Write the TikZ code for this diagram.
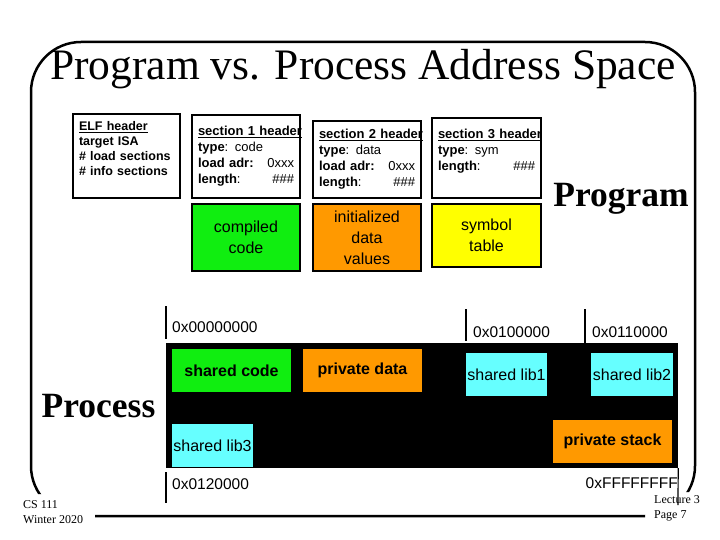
\documentclass[tikz,border=0pt]{standalone}
\usepackage{fontspec}
\setmainfont{Liberation Serif}
\setsansfont{Liberation Sans}
\definecolor{codegreen}{RGB}{16,238,16}
\definecolor{dataorange}{RGB}{255,153,0}
\definecolor{symyellow}{RGB}{255,255,0}
\definecolor{libcyan}{RGB}{102,255,255}
\tikzset{
  hdrbox/.style={draw, line width=1.2pt, inner xsep=5.5pt, align=left,
    font=\sffamily\bfseries\fontsize{13}{16}\selectfont},
  segbox/.style={draw, line width=1.2pt, inner sep=1pt, align=center,
    font=\sffamily\fontsize{16}{21}\selectfont},
  membox/.style={inner sep=1pt, minimum height=43pt,
    font=\sffamily\fontsize{16}{19}\selectfont},
  addr/.style={inner sep=0pt, font=\sffamily\fontsize{15.5}{18}\selectfont},
  bigtitle/.style={font=\bfseries\fontsize{35.5}{40}\selectfont},
  foot/.style={align=left, inner sep=0pt, font=\fontsize{12}{15}\selectfont}
}
\begin{document}
\begin{tikzpicture}[x=1pt, y=-1pt]
  \useasboundingbox (0,0) rectangle (720,540);
  % slide frame, bottom corners hidden behind the footers
  \begin{scope}
    \clip (0,0) -- (720,0) -- (720,492) -- (645,492) -- (645,540)
      -- (95,540) -- (95,494) -- (0,494) -- cycle;
    \draw[line width=2.5pt, rounded corners=50pt] (31,42) rectangle (695,516);
  \end{scope}
  \node[anchor=base, font=\fontsize{43.5}{48}\selectfont] (title) at (363,80)
    {Program vs. Process Address Space};

  % the program file
  \node[hdrbox, font=\sffamily\bfseries\fontsize{12.5}{15}\selectfont,
    minimum width=107pt, minimum height=84pt, text width=95pt] (elf) at (126.5,156)
    {\underline{ELF header}\\ target ISA\\ \# load sections\\ \# info sections\\ \mbox{}};
  \node[hdrbox, minimum width=108pt, minimum height=83pt, text width=96pt] (sec1) at (246,156.5)
    {\underline{section 1 header}\\ type\textmd{: code}\\
     load adr:\hfill\textmd{0xxx}\\ length\textmd{:}\hfill\textmd{\#\#\#}\hspace*{2pt}};
  \node[hdrbox, minimum width=108pt, minimum height=77pt, text width=96pt] (sec2) at (367,159.5)
    {\underline{section 2 header}\\ type\textmd{: data}\\
     load adr:\hfill\textmd{0xxx}\\ length\textmd{:}\hfill\textmd{\#\#\#}\hspace*{3pt}};
  \node[hdrbox, minimum width=109pt, minimum height=80pt, text width=97pt] (sec3) at (486.5,158)
    {\underline{section 3 header}\\ type\textmd{: sym}\\
     length\textmd{:}\hfill\textmd{\#\#\#}\hspace*{4pt}\\ \mbox{}};
  \node[segbox, fill=codegreen, minimum width=108pt, minimum height=67pt] (code) at (246,237.5)
    {compiled\\code};
  \node[segbox, fill=dataorange, minimum width=108pt, minimum height=67pt] (data) at (367,237.5)
    {initialized\\data\\values};
  \node[segbox, fill=symyellow, minimum width=109pt, minimum height=63pt] (sym) at (486.5,235.5)
    {symbol\\table};
  \node[bigtitle, anchor=base] (prog) at (621,207) {Program};

  % the process address space
  \node[fill=black, inner sep=0pt, minimum width=512pt, minimum height=125pt] (mem) at (422,405.5) {};
  \node[membox, fill=codegreen, font=\sffamily\bfseries\fontsize{16}{19}\selectfont,
    minimum width=119pt] (shcode) at (231.5,370.5) {shared code};
  \node[membox, fill=dataorange, font=\sffamily\bfseries\fontsize{16}{19}\selectfont,
    minimum width=119pt] (pdata) at (362.5,370.5) {private data};
  \node[membox, fill=libcyan, minimum width=81pt] (lib1) at (506.5,374.5) {shared lib1};
  \node[membox, fill=libcyan, minimum width=82pt] (lib2) at (632,374.5) {shared lib2};
  \node[membox, fill=libcyan, minimum width=81pt] (lib3) at (212.5,445.5) {shared lib3};
  \node[membox, fill=dataorange, font=\sffamily\bfseries\fontsize{16}{19}\selectfont,
    minimum width=119pt] (pstack) at (612.5,441.5) {private stack};
  \node[bigtitle, anchor=base] (proc) at (98.5,417) {Process};

  % addresses
  \node[addr, anchor=west] (a0) at (172,327) {0x00000000};
  \node[addr, anchor=west] (a1) at (473,332.5) {0x0100000};
  \node[addr, anchor=west] (a2) at (592,332.5) {0x0110000};
  \node[addr, anchor=west] (a3) at (172,484) {0x0120000};
  \node[addr, anchor=east] (af) at (678,483) {0xFFFFFFFF};
  \draw[line width=1.2pt] (166,306) -- (166,339);
  \draw[line width=1.2pt] (466,309) -- (466,341);
  \draw[line width=1.2pt] (585,309) -- (585,343);
  \draw[line width=1.2pt] (166,472) -- (166,503);
  \draw[line width=1.2pt] (mem.south east) -- (678,505);

  % footers
  \node[foot, anchor=north west] (course) at (23,500) {CS 111\\Winter 2020};
  \node[foot, anchor=north west] (lect) at (654,495) {Lecture 3\\Page 7};
\end{tikzpicture}
\end{document}
